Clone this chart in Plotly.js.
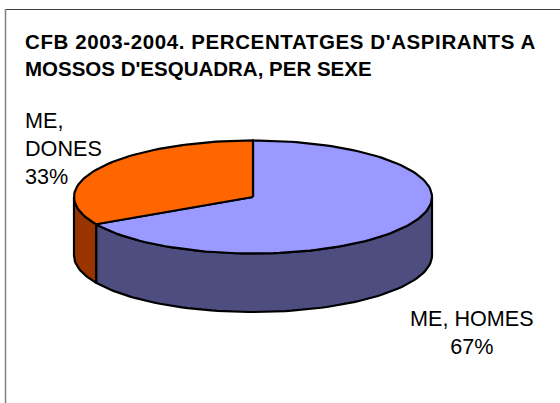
<!DOCTYPE html>
<html><head><meta charset="utf-8">
<script src="https://cdn.plot.ly/plotly-3.0.1.min.js"></script>
<style>html,body{margin:0;padding:0;background:#fff;overflow:hidden}</style>
</head><body><div id="chart" style="width:560px;height:403px"></div>
<script>
var titleText = "CFB 2003-2004. PERCENTATGES D'ASPIRANTS A<br>MOSSOS D'ESQUADRA, PER SEXE";
var categories = ["ME, HOMES", "ME, DONES"];
var shares = [67, 33];
var topColors = ["#9999FF", "#FF6600"];
var sideColors = ["#4D4D80", "#993300"];

var cx = 253, cy = 197, rx = 179, ry = 56.5, depth = 58.5;
function px(d){ return cx + rx * Math.sin(d * Math.PI / 180); }
function py(d){ return cy - ry * Math.cos(d * Math.PI / 180); }
function arc(a, b){
  var out = [], n = Math.max(2, Math.ceil(Math.abs(b - a) / 2));
  for (var i = 0; i <= n; i++) out.push(a + (b - a) * i / n);
  return out;
}
var total = shares.reduce(function(s, v){ return s + v; }, 0);
var traces = [], start = 0, sides = [], tops = [];
shares.forEach(function(v, i){
  var end = start + v / total * 360;
  var lo = Math.max(start, 90), hi = Math.min(end, 270);
  if (hi > lo) {
    var a = arc(lo, hi), xs = a.map(px), ys = a.map(py);
    var r = a.slice().reverse();
    sides.push({type:"scatter", mode:"lines", fill:"toself", fillcolor:sideColors[i],
      x: xs.concat(r.map(px), [xs[0]]),
      y: ys.concat(r.map(function(d){ return py(d) + depth; }), [ys[0]]),
      line:{color:"#000", width:2.2}, hoverinfo:"skip", showlegend:false});
  }
  var t = arc(start, end);
  tops.push({type:"scatter", mode:"lines", fill:"toself", fillcolor:topColors[i],
    x: [cx].concat(t.map(px), [cx]),
    y: [cy].concat(t.map(py), [cy]),
    line:{color:"#000", width:2.2}, hoverinfo:"skip", showlegend:false});
  start = end;
});
traces = sides.concat(tops);

var font = {family:"Liberation Sans, Arial, sans-serif", color:"#000", size:21.6};
var layout = {
  width:560, height:403, margin:{l:0,r:0,t:0,b:0},
  paper_bgcolor:"#fff", plot_bgcolor:"#fff", showlegend:false,
  xaxis:{range:[0,560], visible:false, fixedrange:true},
  yaxis:{range:[403,0], visible:false, fixedrange:true},
  title:{text:"<b>"+titleText+"</b>", x:25/560, xanchor:"left", xref:"paper",
         y:1-49/403, yanchor:"top", yref:"container",
         font:{family:"Liberation Sans, Arial, sans-serif", color:"#000", size:20.5}},
  shapes:[
    {type:"line", xref:"x", yref:"y", x0:5.5, x1:560, y0:9.5, y1:9.5, line:{color:"#404040", width:1}},
    {type:"line", xref:"x", yref:"y", x0:5.5, x1:5.5, y0:9, y1:403, line:{color:"#808080", width:1.5}}
  ],
  annotations:[
    {xref:"x", yref:"y", x:23, y:105.5, xanchor:"left", yanchor:"top", align:"left", showarrow:false, font:font,
     text:"ME,<br>DONES<br>"+shares[1]+"%"},
    {xref:"x", yref:"y", x:472, y:303.5, xanchor:"center", yanchor:"top", align:"center", showarrow:false, font:font,
     text:categories[0]+"<br>"+shares[0]+"%"}
  ]
};
Plotly.newPlot("chart", traces, layout, {staticPlot:true, displayModeBar:false}).then(function(){
  var first = document.querySelector(".gtitle tspan.line");
  if (first) first.style.letterSpacing = "0.6px";
});
</script></body></html>
